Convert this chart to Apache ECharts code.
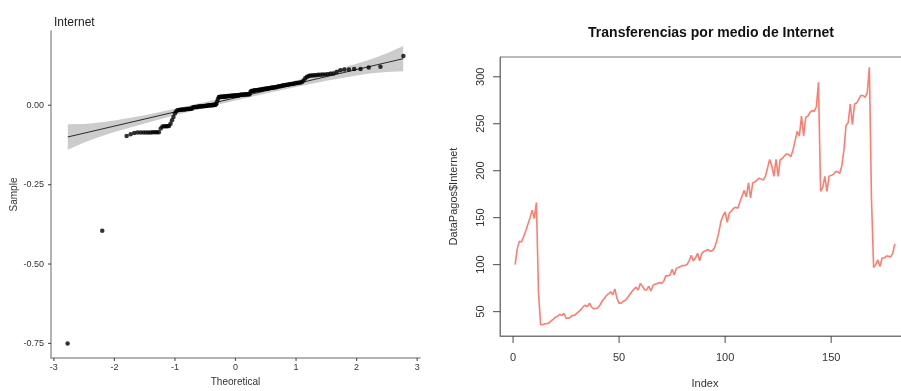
<!DOCTYPE html>
<html>
<head>
<meta charset="utf-8">
<script src="https://cdn.jsdelivr.net/npm/echarts@6/dist/echarts.min.js"></script>
<style>
  html, body { margin: 0; padding: 0; background: #fff; }
  #main { width: 901px; height: 391px; }
</style>
</head>
<body>
<div id="main"></div>
<script>
// QQ plot (left): sorted sample values, one per rank (n = 180); null = not visible
var qqSample = [
  -0.75, null, -0.395, null, null, null,
  -0.097, -0.091,
  -0.087, -0.086, -0.086, -0.086, -0.086, -0.086, -0.086, -0.085, -0.085, -0.085, -0.085,
  -0.073,
  -0.067, -0.066, -0.066, -0.066, -0.065,
  -0.058, -0.047, -0.037, -0.026, -0.019,
  -0.016, -0.015, -0.014, -0.014, -0.013, -0.013, -0.013, -0.012, -0.012, -0.012, -0.011, -0.011, -0.010,
  -0.006, -0.006, -0.005, -0.005, -0.005, -0.004, -0.004, -0.004, -0.003, -0.003, -0.003, -0.002,
  -0.002, -0.002, -0.001, -0.001, -0.001, 0.000, 0.000, 0.000, 0.000, 0.001, 0.001, 0.002, 0.003,
  0.012, 0.020,
  0.026, 0.026, 0.027, 0.027, 0.027, 0.027, 0.028, 0.028, 0.028, 0.028, 0.029, 0.029, 0.029,
  0.029, 0.030, 0.030, 0.030, 0.030, 0.031, 0.031, 0.031, 0.031, 0.032, 0.032, 0.032, 0.033,
  0.033, 0.033, 0.033, 0.034, 0.034, 0.034, 0.034, 0.035, 0.035, 0.035, 0.035,
  0.042,
  0.045, 0.045, 0.046, 0.046, 0.047, 0.047, 0.047, 0.048, 0.048, 0.049, 0.049, 0.050, 0.050,
  0.051, 0.051, 0.052, 0.052, 0.053, 0.053, 0.054, 0.054, 0.055, 0.055, 0.056, 0.056, 0.057,
  0.057, 0.058,
  0.059, 0.060, 0.060, 0.061, 0.062, 0.062, 0.063, 0.064, 0.065, 0.065, 0.066, 0.067, 0.067,
  0.068, 0.069, 0.070, 0.070, 0.071, 0.072, 0.073,
  0.078, 0.085, 0.089, 0.092,
  0.094, 0.094, 0.095, 0.095, 0.096, 0.096, 0.097, 0.097, 0.098, 0.099, 0.100,
  0.105, 0.110, 0.113, 0.113, 0.114, 0.114, 0.119, 0.121, 0.155
];

// reference line end points and confidence band
var refLineT = [-2.77, 2.77];
var refLineY = [-0.0998, 0.1468];
var bandT  = [-2.77, -2.5, -2.25, -2, -1.5, -1, -0.5, 0, 0.5, 1, 1.5, 2, 2.25, 2.5, 2.77];
var bandLo = [-0.140, -0.117, -0.100, -0.084, -0.057, -0.031, -0.008, 0.015, 0.037, 0.058, 0.077, 0.094, 0.101, 0.105, 0.107];
var bandHi = [-0.060, -0.059, -0.054, -0.048, -0.031, -0.011, 0.010, 0.031, 0.054, 0.078, 0.103, 0.131, 0.146, 0.164, 0.187];

var qqXTicks = [-3, -2, -1, 0, 1, 2, 3];
var qqYTicks = [-0.75, -0.5, -0.25, 0];

// Time series (right): DataPagos$Internet, index 1..180
var internet = [
  100, 117, 125, 124, 130, 136, 143, 150, 158, 149,
  166, 70, 36, 36, 37, 37, 38, 40, 42, 44,
  45, 47, 46, 48, 43, 43, 44, 46, 46, 48,
  50, 52, 55, 57, 55, 59, 55, 53, 53, 54,
  57, 61, 64, 67, 69, 71, 68, 74, 64, 59,
  59, 61, 62, 65, 68, 71, 74, 76, 73, 80,
  77, 73, 73, 77, 72, 78, 79, 80, 81, 80,
  82, 88, 88, 89, 95, 89, 96, 97, 98, 99,
  99, 100, 104, 110, 104, 107, 112, 104, 112, 114,
  115, 116, 114, 115, 118, 125, 134, 146, 152, 156,
  145, 155, 157, 160, 161, 160, 167, 173, 179, 172,
  187, 171, 187, 188, 190, 192, 191, 190, 194, 203,
  212, 205, 194, 212, 194, 212, 213, 216, 218, 217,
  215, 222, 232, 242, 237, 258, 237, 257, 258, 262,
  264, 263, 268, 294, 178, 182, 194, 178, 194, 195,
  196, 199, 199, 197, 205, 222, 248, 251, 271, 249,
  271, 272, 276, 280, 280, 278, 283, 310, 170, 97,
  100, 105, 98, 107, 107, 109, 109, 108, 112, 122
];
var tsXTicks = [0, 50, 100, 150];
var tsYTicks = [50, 100, 150, 200, 250, 300];

// inverse normal CDF (Acklam) for the theoretical quantiles
function qnorm(p) {
  var a = [-39.69683028665376, 220.9460984245205, -275.9285104469687, 138.3577518672690, -30.66479806614716, 2.506628277459239];
  var b = [-54.47609879822406, 161.5858368580409, -155.6989798598866, 66.80131188771972, -13.28068155288572];
  var c = [-0.007784894002430293, -0.3223964580411365, -2.400758277161838, -2.549732539343734, 4.374664141464968, 2.938163982698783];
  var d = [0.007784695709041462, 0.3224671290700398, 2.445134137142996, 3.754408661907416];
  var q, r;
  if (p < 0.02425) {
    q = Math.sqrt(-2 * Math.log(p));
    return (((((c[0]*q+c[1])*q+c[2])*q+c[3])*q+c[4])*q+c[5]) / ((((d[0]*q+d[1])*q+d[2])*q+d[3])*q+1);
  }
  if (p > 1 - 0.02425) {
    q = Math.sqrt(-2 * Math.log(1 - p));
    return -(((((c[0]*q+c[1])*q+c[2])*q+c[3])*q+c[4])*q+c[5]) / ((((d[0]*q+d[1])*q+d[2])*q+d[3])*q+1);
  }
  q = p - 0.5; r = q * q;
  return (((((a[0]*r+a[1])*r+a[2])*r+a[3])*r+a[4])*r+a[5])*q / (((((b[0]*r+b[1])*r+b[2])*r+b[3])*r+b[4])*r+1);
}

var n = qqSample.length;
var qqPoints = [];
qqSample.forEach(function (v, i) {
  if (v !== null) qqPoints.push([qnorm((i + 0.5) / n), v]);
});
var refLine = refLineT.map(function (t, i) { return [t, refLineY[i]]; });
var tsData = internet.map(function (v, i) { return [i + 1, v]; });

var FONT = '"Liberation Sans", Arial, sans-serif';
var chart = echarts.init(document.getElementById('main'));

// outward tick marks: thin rect symbols sitting on the axis lines
function xTickSeries(gi, ticks, yMin, len, color) {
  return {
    type: 'scatter', xAxisIndex: gi, yAxisIndex: gi,
    silent: true, clip: false, z: 6,
    data: ticks.map(function (v) { return [v, yMin]; }),
    symbol: 'rect', symbolSize: [1.2, len], symbolOffset: [0, len / 2],
    itemStyle: { color: color }
  };
}
function yTickSeries(gi, ticks, xMin, len, color) {
  return {
    type: 'scatter', xAxisIndex: gi, yAxisIndex: gi,
    silent: true, clip: false, z: 6,
    data: ticks.map(function (v) { return [xMin, v]; }),
    symbol: 'rect', symbolSize: [len, 1.2], symbolOffset: [-len / 2, 0],
    itemStyle: { color: color }
  };
}

var option = {
  backgroundColor: '#fff',
  animation: false,
  textStyle: { fontFamily: FONT },
  title: [
    {
      text: 'Internet',
      left: 49, top: 12,
      textStyle: { fontFamily: FONT, fontSize: 12, fontWeight: 'normal', color: '#222' }
    },
    {
      text: 'Transferencias por medio de Internet',
      left: 706, top: 21, textAlign: 'center',
      textStyle: { fontFamily: FONT, fontSize: 14, fontWeight: 'bold', color: '#111' }
    }
  ],
  grid: [
    { left: 51, top: 31, width: 369, height: 327, outerBoundsMode: 'none' },
    { left: 500, top: 57, width: 410, height: 279, outerBoundsMode: 'none',
      show: true, borderColor: '#777', borderWidth: 1, backgroundColor: 'transparent' }
  ],
  xAxis: [
    {
      gridIndex: 0, type: 'value', min: -3.047, max: 3.047,
      name: 'Theoretical', nameLocation: 'middle', nameGap: 18,
      nameTextStyle: { fontFamily: FONT, fontSize: 10, color: '#333' },
      axisLine: { show: true, onZero: false, lineStyle: { color: '#9a9a9a', width: 1.5 } },
      axisTick: { show: false },
      axisLabel: { customValues: qqXTicks, margin: 5, fontFamily: FONT, fontSize: 9, color: '#333' },
      splitLine: { show: false }
    },
    {
      gridIndex: 1, type: 'value', min: -6.16, max: 187.16,
      name: 'Index', nameLocation: 'middle', nameGap: 42,
      nameTextStyle: { fontFamily: FONT, fontSize: 11, color: '#333' },
      axisLine: { show: true, onZero: false, lineStyle: { color: '#777', width: 1 } },
      axisTick: { show: false },
      axisLabel: { customValues: tsXTicks, margin: 16, fontFamily: FONT, fontSize: 11, color: '#333' },
      splitLine: { show: false }
    }
  ],
  yAxis: [
    {
      gridIndex: 0, type: 'value', min: -0.796, max: 0.234,
      name: 'Sample', nameLocation: 'middle', nameGap: 29,
      nameTextStyle: { fontFamily: FONT, fontSize: 10, color: '#333' },
      axisLine: { show: true, onZero: false, lineStyle: { color: '#9a9a9a', width: 1.5 } },
      axisTick: { show: false },
      axisLabel: {
        customValues: qqYTicks, margin: 7, fontFamily: FONT, fontSize: 9, color: '#333',
        formatter: function (v) { return v.toFixed(2); }
      },
      splitLine: { show: false }
    },
    {
      gridIndex: 1, type: 'value', min: 24, max: 321,
      name: 'DataPagos$Internet', nameLocation: 'middle', nameGap: 41,
      nameTextStyle: { fontFamily: FONT, fontSize: 11, color: '#333' },
      axisLine: { show: true, onZero: false, lineStyle: { color: '#777', width: 1 } },
      axisTick: { show: false },
      axisLabel: { customValues: tsYTicks, rotate: 90, margin: 14, fontFamily: FONT, fontSize: 11, color: '#333' },
      splitLine: { show: false }
    }
  ],
  series: [
    {
      name: 'band',
      type: 'custom',
      xAxisIndex: 0, yAxisIndex: 0,
      silent: true, z: 1,
      data: [0],
      renderItem: function (params, api) {
        var pts = [];
        for (var i = 0; i < bandT.length; i++) pts.push(api.coord([bandT[i], bandHi[i]]));
        for (var j = bandT.length - 1; j >= 0; j--) pts.push(api.coord([bandT[j], bandLo[j]]));
        return {
          type: 'polygon',
          shape: { points: pts },
          style: { fill: 'rgba(0,0,0,0.2)', stroke: null }
        };
      }
    },
    {
      name: 'ref',
      type: 'line',
      xAxisIndex: 0, yAxisIndex: 0,
      data: refLine, symbol: 'none', z: 2,
      lineStyle: { color: '#000', width: 0.8 }
    },
    {
      name: 'sample',
      type: 'scatter',
      xAxisIndex: 0, yAxisIndex: 0,
      data: qqPoints, symbolSize: 4.5, z: 3,
      itemStyle: { color: '#000' }
    },
    {
      name: 'Internet',
      type: 'line',
      xAxisIndex: 1, yAxisIndex: 1,
      data: tsData, symbol: 'none',
      lineStyle: { color: '#fa7f72', width: 1.6 }
    },
    xTickSeries(0, qqXTicks, -0.796, 3, '#333'),
    yTickSeries(0, qqYTicks, -3.047, 3, '#333'),
    xTickSeries(1, tsXTicks, 24, 7, '#444'),
    yTickSeries(1, tsYTicks, -6.16, 7, '#444')
  ]
};

chart.setOption(option);
</script>
</body>
</html>
